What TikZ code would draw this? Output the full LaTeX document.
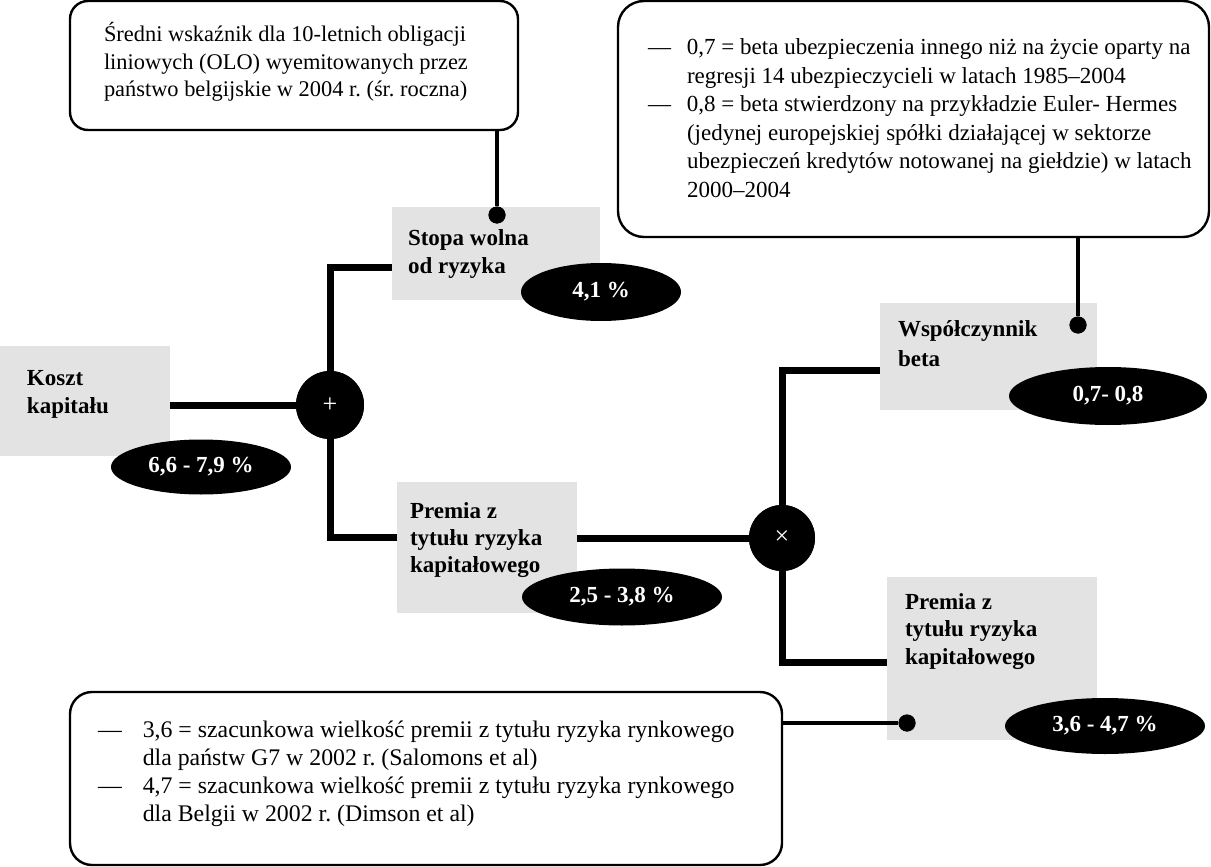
\documentclass[tikz,border=0pt]{standalone}
\usepackage{fontspec}
\setmainfont{Liberation Serif}
\usetikzlibrary{shapes.geometric}
\frenchspacing
\begin{document}
\begin{tikzpicture}[x=1pt,y=-1pt,
  graybox/.style={draw=none,fill=black!11,inner sep=0pt,outer sep=0pt},
  notebox/.style={draw=black,line width=2.4pt,fill=white,inner sep=0pt,outer sep=0pt},
  lbl/.style={anchor=base west,inner sep=0pt,outer sep=0pt,font=\fontsize{23}{28}\selectfont\bfseries},
  notetxt/.style={anchor=base west,inner sep=0pt,outer sep=0pt},
  valell/.style={ellipse,fill=black,text=white,inner sep=0pt,font=\fontsize{23}{26}\selectfont\bfseries},
  opcirc/.style={circle,fill=black,text=white,inner sep=0pt,font=\fontsize{26}{28}\selectfont},
  conn/.style={line width=7pt,line join=miter,draw=black},
  callout/.style={line width=3.5pt,draw=black},
  dotend/.style={circle,fill=black,inner sep=0pt,minimum size=17pt}
]
\useasboundingbox (0,0) rectangle (1211,867);
\fill[white] (0,0) rectangle (1211,867);

% gray label boxes
\node[graybox,minimum width=170pt,minimum height=110pt] (kk) at (85,401) {};
\node[graybox,minimum width=208pt,minimum height=93pt] (sw) at (496,253.5) {};
\node[graybox,minimum width=217pt,minimum height=107pt] (wb) at (988.5,356.5) {};
\node[graybox,minimum width=180pt,minimum height=131pt] (pm) at (487,547.5) {};
\node[graybox,minimum width=210pt,minimum height=163pt] (pr) at (992,658.5) {};

% note boxes
\node[notebox,rounded corners=18pt,minimum width=448pt,minimum height=129pt] (olo) at (294,65.5) {};
\node[notebox,rounded corners=26pt,minimum width=591pt,minimum height=236pt] (betanote) at (913.5,119) {};
\node[notebox,rounded corners=22pt,minimum width=712pt,minimum height=173pt] (premnote) at (426,778.5) {};

% operators
\node[opcirc,minimum size=68pt] (plus) at (330,405) {+};
\node[opcirc,minimum size=66pt] (times) at (782,538) {×};

% dots
\node[dotend] (d1) at (497,215) {};
\node[dotend] (d2) at (1078,325) {};
\node[dotend] (d3) at (907,723) {};

% connectors
\draw[conn] (plus) -- (plus -| kk.east);
\draw[conn] (plus) |- (sw.west |- 0,267);
\draw[conn] (plus) |- (pm.west |- 0,537);
\draw[conn] (times) -- (times -| pm.east);
\draw[conn] (times) |- (wb.west |- 0,370);
\draw[conn] (times) |- (pr.west |- 0,662);

% callouts
\draw[callout] (d1 |- olo.south) -- (d1);
\draw[callout] (d2 |- betanote.south) -- (d2);
\draw[callout] (d3 -| premnote.east) -- (d3);

% redraw operators and dots on top
\node[opcirc,minimum size=68pt] at (plus) {+};
\node[opcirc,minimum size=66pt] at (times) {×};
\node[dotend] at (d1) {};
\node[dotend] at (d2) {};
\node[dotend] at (d3) {};

% labels
\node[lbl] (tkk) at (27,385) {\begin{tabular}[t]{@{}l@{}}Koszt\\kapitału\end{tabular}};
\node[lbl] (tsw) at (408,245) {\begin{tabular}[t]{@{}l@{}}Stopa wolna\\od ryzyka\end{tabular}};
\node[lbl] (twb) at (898,336) {\fontsize{23}{30}\selectfont\begin{tabular}[t]{@{}l@{}}Współczynnik\\beta\end{tabular}};
\node[lbl] (tpm) at (410,518) {\fontsize{23}{27}\selectfont\begin{tabular}[t]{@{}l@{}}Premia z\\tytułu ryzyka\\kapitałowego\end{tabular}};
\node[lbl] (tpr) at (905,609) {\fontsize{23}{27.5}\selectfont\begin{tabular}[t]{@{}l@{}}Premia z\\tytułu ryzyka\\kapitałowego\end{tabular}};

% value ellipses
\node[valell,minimum width=180pt,minimum height=55pt] (v1) at (201,467) {6,6 - 7,9 \%};
\node[valell,minimum width=160pt,minimum height=58pt] (v2) at (601,292) {4,1 \%};
\node[valell,minimum width=198pt,minimum height=58pt] (v3) at (1108,396) {0,7- 0,8};
\node[valell,minimum width=200pt,minimum height=57pt] (v4) at (622,597) {2,5 - 3,8 \%};
\node[valell,minimum width=200pt,minimum height=56pt] (v5) at (1105,726) {3,6 - 4,7 \%};

% note texts
\node[notetxt] (tolo) at (104,42) {\fontsize{22.4}{27.5}\selectfont\begin{tabular}[t]{@{}l@{}}Średni wskaźnik dla 10-letnich obligacji\\liniowych (OLO) wyemitowanych przez\\państwo belgijskie w 2004 r. (śr. roczna)\end{tabular}};
\node[notetxt] (tbeta) at (648,55) {\fontsize{23}{28.5}\selectfont\begin{tabular}[t]{@{}l@{\hspace{16pt}}l@{}}—&0,7 = beta ubezpieczenia innego niż na życie oparty na\\&regresji 14 ubezpieczycieli w latach 1985–2004\\—&0,8 = beta stwierdzony na przykładzie Euler- Hermes\\&(jedynej europejskiej spółki działającej w sektorze\\&ubezpieczeń kredytów notowanej na giełdzie) w latach\\&2000–2004\end{tabular}};
\node[notetxt] (tprem) at (98,737) {\fontsize{23.8}{28}\selectfont\begin{tabular}[t]{@{}l@{\hspace{21pt}}l@{}}—&3,6 = szacunkowa wielkość premii z tytułu ryzyka rynkowego\\&dla państw G7 w 2002 r. (Salomons et al)\\—&4,7 = szacunkowa wielkość premii z tytułu ryzyka rynkowego\\&dla Belgii w 2002 r. (Dimson et al)\end{tabular}};
\end{tikzpicture}
\end{document}
